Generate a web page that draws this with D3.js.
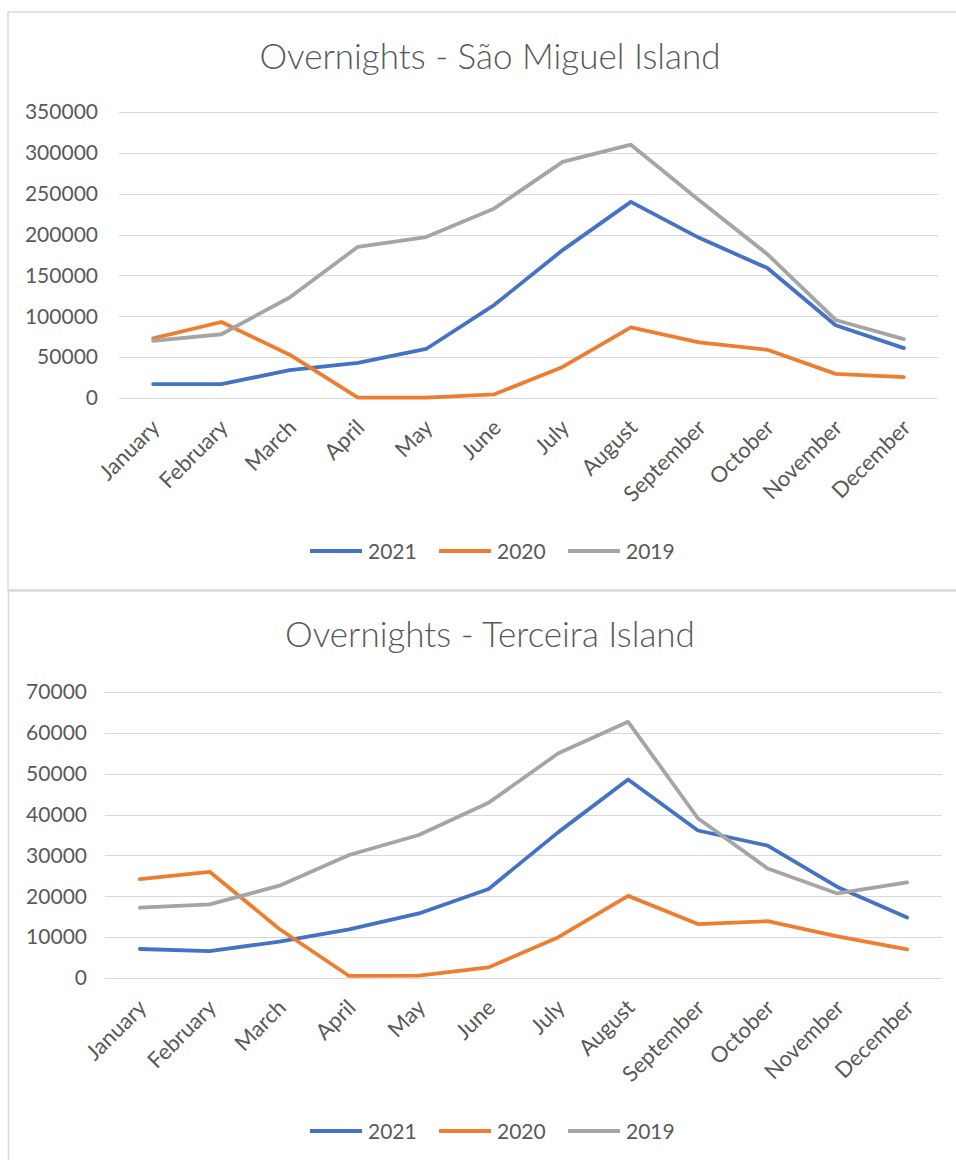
<!DOCTYPE html>
<html>
<head>
<meta charset="utf-8">
<script src="https://cdn.jsdelivr.net/npm/d3@7"></script>
<style>
  html, body { margin: 0; padding: 0; background: #ffffff; }
  svg { display: block; font-family: Lato, "Open Sans", sans-serif; }
</style>
</head>
<body>
<svg id="chart" width="956" height="1160"></svg>
<script>
// Monthly overnight stays by island and year
const months = ["January", "February", "March", "April", "May", "June",
  "July", "August", "September", "October", "November", "December"];
const seriesNames = ["2021", "2020", "2019"];
const seriesColors = ["#4472C4", "#ED7D31", "#A5A5A5"];

const saoMiguel2021 = [17000, 17000, 34000, 43000, 60000, 114000, 181000, 240000, 196000, 159000, 89000, 61000];
const saoMiguel2020 = [73000, 93000, 53000, 500, 500, 4500, 38000, 86500, 68000, 59000, 29500, 25500];
const saoMiguel2019 = [70000, 78000, 123000, 185000, 197000, 232000, 289000, 310000, 242000, 176000, 95500, 72000];
const saoMiguelTicks = [0, 50000, 100000, 150000, 200000, 250000, 300000, 350000];

const terceira2021 = [7100, 6600, 8900, 11900, 15800, 21800, 35700, 48600, 36100, 32400, 22300, 14800];
const terceira2020 = [24200, 26000, 12000, 500, 600, 2600, 10000, 20100, 13200, 13900, 10200, 7000];
const terceira2019 = [17200, 18000, 22600, 30100, 35000, 42900, 55000, 62700, 39100, 26800, 20700, 23400];
const terceiraTicks = [0, 10000, 20000, 30000, 40000, 50000, 60000, 70000];

const svg = d3.select("#chart");
const textColor = "#595959";
const gridColor = "#D9D9D9";

function drawChart(cfg) {
  const g = svg.append("g");

  // chart frame
  g.append("rect")
    .attr("x", cfg.frame[0]).attr("y", cfg.frame[1])
    .attr("width", cfg.frame[2]).attr("height", cfg.frame[3])
    .attr("fill", "#fff").attr("stroke", gridColor).attr("stroke-width", 1.5);

  // title
  g.append("text")
    .attr("x", cfg.titleX).attr("y", cfg.titleY)
    .attr("text-anchor", "middle")
    .attr("fill", textColor)
    .attr("font-size", 35)
    .attr("font-weight", 300)
    .text(cfg.title);

  const x = d3.scaleBand().domain(months).range([cfg.left, cfg.right]);
  const cx = m => x(m) + x.bandwidth() / 2;
  const y = d3.scaleLinear().domain([0, d3.max(cfg.ticks)]).range([cfg.bottom, cfg.top]);

  // horizontal gridlines
  g.append("g").selectAll("line").data(cfg.ticks).join("line")
    .attr("x1", cfg.left).attr("x2", cfg.right)
    .attr("y1", d => Math.round(y(d)) + 0.5).attr("y2", d => Math.round(y(d)) + 0.5)
    .attr("stroke", gridColor).attr("stroke-width", 1);

  // y axis labels
  const yAxis = d3.axisLeft(y).tickValues(cfg.ticks).tickFormat(d3.format("d")).tickSize(0).tickPadding(0);
  const ya = g.append("g").attr("transform", `translate(${cfg.labelRight},0)`).call(yAxis);
  ya.select(".domain").remove();
  ya.selectAll("text").attr("fill", textColor).attr("font-size", 21)
    .attr("font-family", "Lato, 'Open Sans', sans-serif");

  // x axis labels, rotated
  g.append("g").selectAll("text").data(months).join("text")
    .attr("transform", m => `translate(${cx(m) + 8},${cfg.bottom + 31}) rotate(-45)`)
    .attr("text-anchor", "end")
    .attr("fill", textColor)
    .attr("font-size", 22)
    .text(m => m);

  // series lines
  const line = d3.line().x((d, i) => cx(months[i])).y(d => y(d));
  cfg.series.forEach((vals, k) => {
    g.append("path")
      .datum(vals)
      .attr("d", line)
      .attr("fill", "none")
      .attr("stroke", seriesColors[k])
      .attr("stroke-width", 3.8)
      .attr("stroke-linejoin", "round")
      .attr("stroke-linecap", "round");
  });

  // legend
  const lg = g.append("g").attr("transform", `translate(${cfg.legendX},${cfg.legendY})`);
  seriesNames.forEach((name, k) => {
    const item = lg.append("g").attr("transform", `translate(${k * 129},0)`);
    item.append("line").attr("x1", 0).attr("x2", 52).attr("y1", 0).attr("y2", 0)
      .attr("stroke", seriesColors[k]).attr("stroke-width", 3.8);
    item.append("text").attr("x", 58).attr("y", 7.5)
      .attr("fill", textColor).attr("font-size", 21).text(name);
  });
}

drawChart({
  frame: [8, 12, 980, 578],
  title: "Overnights - São Miguel Island",
  titleX: 490, titleY: 69,
  left: 119, right: 938, top: 112, bottom: 398,
  labelRight: 98,
  ticks: saoMiguelTicks,
  series: [saoMiguel2021, saoMiguel2020, saoMiguel2019],
  legendX: 310, legendY: 551
});

drawChart({
  frame: [8.5, 591, 980, 600],
  title: "Overnights - Terceira Island",
  titleX: 490, titleY: 647,
  left: 105, right: 942, top: 692, bottom: 978,
  labelRight: 87,
  ticks: terceiraTicks,
  series: [terceira2021, terceira2020, terceira2019],
  legendX: 310, legendY: 1131
});
</script>
</body>
</html>
